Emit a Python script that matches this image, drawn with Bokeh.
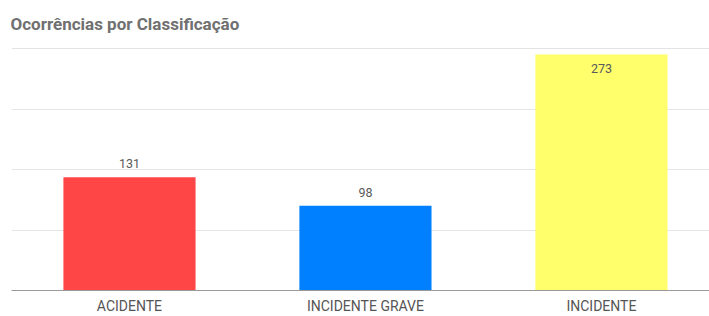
from bokeh.plotting import figure
from bokeh.models import Range1d, FixedTicker, ColumnDataSource, Span, Title
from bokeh.core.properties import value
from bokeh.embed import file_html
from bokeh.resources import INLINE

categories = ["ACIDENTE", "INCIDENTE GRAVE", "INCIDENTE"]
counts = [131, 98, 273]
colors = ["#FF4646", "#0080FF", "#FFFF6B"]
y_ticks = [0, 70, 140, 210, 280]
title_text = "Ocorrências por Classificação"

xs = [i + 0.5 for i in range(len(categories))]
y_max = y_ticks[-1]
inside = [c > 0.9 * y_max for c in counts]

p = figure(width=709, height=316, output_backend="svg", toolbar_location=None,
           x_range=Range1d(0, 2.958), y_range=Range1d(0, y_max),
           min_border_left=11, min_border_right=0, min_border_top=48, min_border_bottom=17)
p.outline_line_color = None
p.background_fill_color = "white"
p.border_fill_color = "white"

t = Title(text=title_text, align="left", vertical_align="top", text_font="Roboto",
          text_font_size="17px", text_font_style="bold", text_color="#707070",
          offset=-1, standoff=26)
p.add_layout(t, "above")

src = ColumnDataSource(dict(x=xs, top=counts, color=colors,
                            label=[str(c) for c in counts]))
p.vbar(x="x", top="top", width=0.56, bottom=0, fill_color="color", line_color=None, source=src)

out_idx = [i for i in range(len(counts)) if not inside[i]]
in_idx = [i for i in range(len(counts)) if inside[i]]
src_out = ColumnDataSource(dict(x=[xs[i] for i in out_idx], y=[counts[i] for i in out_idx],
                                label=[str(counts[i]) for i in out_idx]))
src_in = ColumnDataSource(dict(x=[xs[i] for i in in_idx], y=[counts[i] for i in in_idx],
                               label=[str(counts[i]) for i in in_idx]))
p.text(x="x", y="y", text="label", source=src_out, text_align="center", text_baseline="bottom",
       y_offset=-9, text_font=value("Roboto"), text_font_size="12.5px", text_color="#5a5a5a")
p.text(x="x", y="y", text="label", source=src_in, text_align="center", text_baseline="top",
       y_offset=9, text_font=value("Roboto"), text_font_size="12.5px", text_color="#5a5a5a")

p.yaxis.visible = False
p.yaxis.ticker = FixedTicker(ticks=y_ticks)
p.ygrid.ticker = FixedTicker(ticks=y_ticks)
p.ygrid.grid_line_color = "#e6e6e6"
p.xgrid.grid_line_color = None
p.add_layout(Span(location=y_max, dimension="width", line_color="#c8c8c8", line_width=1))

p.xaxis.ticker = FixedTicker(ticks=xs)
p.xaxis.major_label_overrides = {x: c for x, c in zip(xs, categories)}
p.xaxis.major_tick_line_color = None
p.xaxis.minor_tick_line_color = None
p.xaxis.axis_line_color = "#9a9a9a"
p.xaxis.major_label_standoff = 1
p.xaxis.major_label_text_font = "Roboto"
p.xaxis.major_label_text_font_size = "14px"
p.xaxis.major_label_text_color = "#555555"

open("out.html", "w").write(file_html(p, INLINE))
